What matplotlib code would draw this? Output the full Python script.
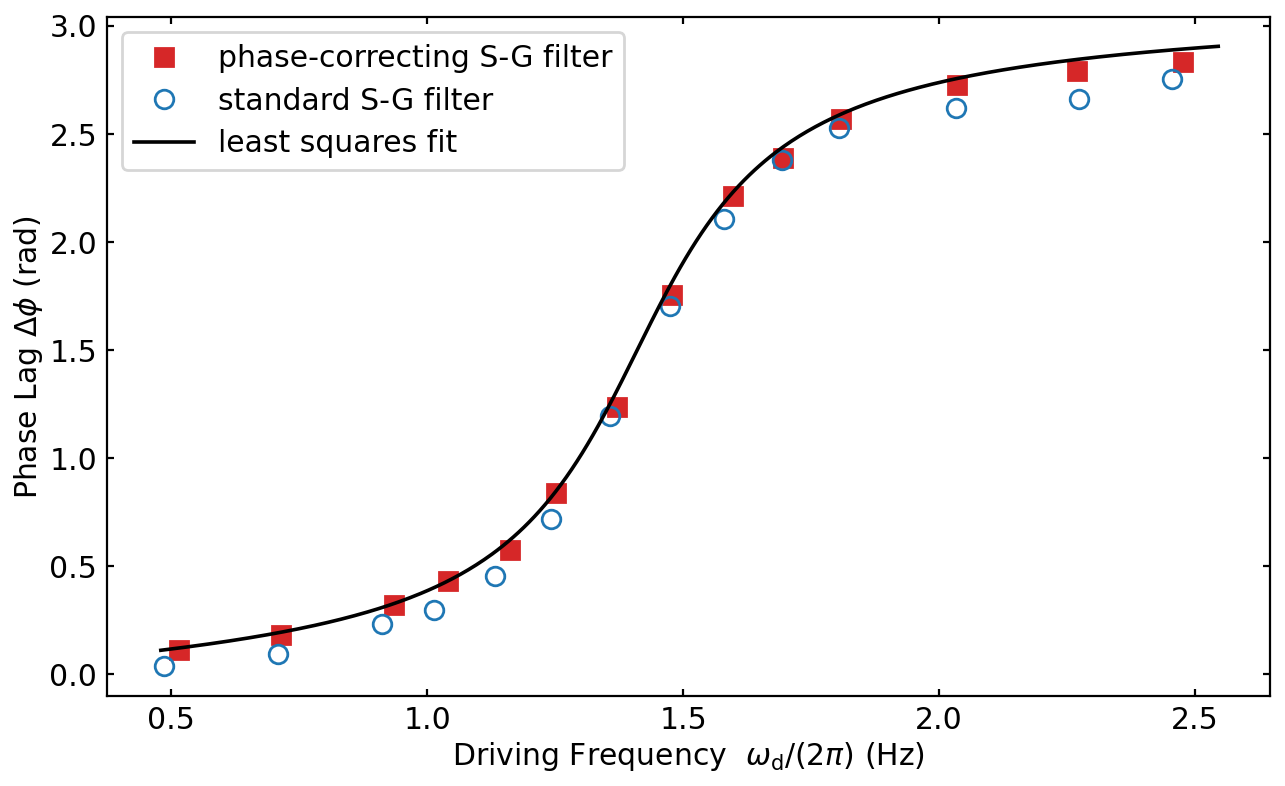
import numpy as np
import matplotlib
matplotlib.use("Agg")
import matplotlib.pyplot as plt

# phase-correcting S-G filter data
pc_freq = [0.516, 0.715, 0.936, 1.041, 1.162, 1.252, 1.371, 1.479, 1.598, 1.695, 1.809, 2.035, 2.270, 2.477]
pc_phase = [0.111, 0.180, 0.320, 0.430, 0.574, 0.838, 1.236, 1.755, 2.213, 2.389, 2.569, 2.727, 2.790, 2.833]

# standard S-G filter data
sg_freq = [0.486, 0.709, 0.912, 1.014, 1.133, 1.242, 1.357, 1.475, 1.580, 1.693, 1.805, 2.033, 2.273, 2.455]
sg_phase = [0.037, 0.093, 0.231, 0.296, 0.454, 0.718, 1.194, 1.704, 2.106, 2.380, 2.528, 2.620, 2.662, 2.755]

# least squares fit parameters (driven damped oscillator phase)
fit_f0 = 1.425
fit_gamma = 0.42
fit_range = (0.48, 2.545)

plt.rcParams['font.family'] = ['DejaVu Sans']
plt.rcParams['font.size'] = 10.75

fig = plt.figure(figsize=(6.425, 3.93), dpi=200)
ax = fig.add_axes([0.0833, 0.1145, 0.905, 0.8635])

ax.plot(pc_freq, pc_phase, 's', color='#d62728', markersize=6.5, linestyle='none',
        label='phase-correcting S-G filter', zorder=3)
ax.plot(sg_freq, sg_phase, 'o', markerfacecolor='none', markeredgecolor='#1f77b4',
        markersize=6.7, markeredgewidth=1.0, linestyle='none', label='standard S-G filter', zorder=3)

f = np.linspace(fit_range[0], fit_range[1], 400)
phi = np.arctan2(fit_gamma * f, fit_f0**2 - f**2)
ax.plot(f, phi, '-', color='black', linewidth=1.3, label='least squares fit', zorder=4)

ax.set_xlim(0.375, 2.646)
ax.set_ylim(-0.10, 3.04)
ax.set_xticks([0.5, 1.0, 1.5, 2.0, 2.5])
ax.set_yticks([0.0, 0.5, 1.0, 1.5, 2.0, 2.5, 3.0])
ax.tick_params(direction='in', top=True, right=True, length=2.5)

ax.set_xlabel(r'Driving Frequency  $\omega_\mathrm{d}/(2\pi)$ (Hz)', labelpad=2)
ax.set_ylabel(r'Phase Lag $\Delta\phi$ (rad)', labelpad=1.5)

ax.legend(loc='upper left', borderaxespad=0.5, labelspacing=0.45)

fig.savefig('out.png', dpi=200)
